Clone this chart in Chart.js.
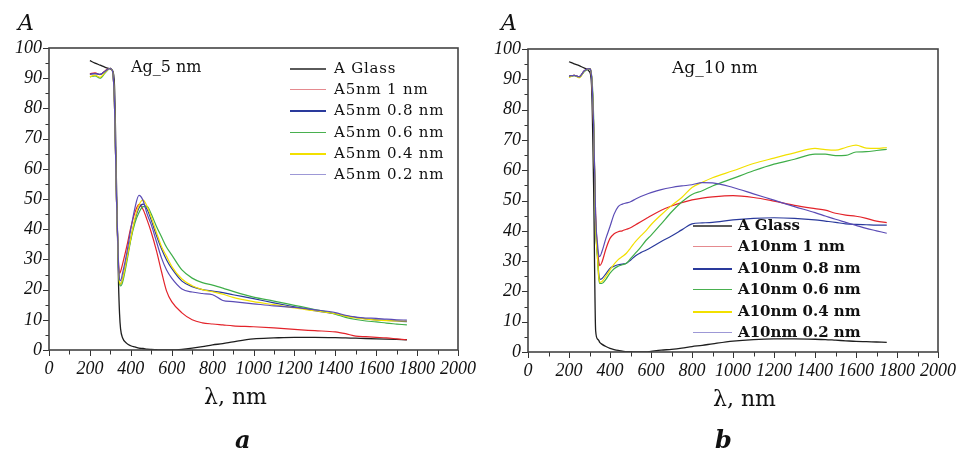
<!DOCTYPE html>
<html><head><meta charset="utf-8">
<script src="https://cdn.jsdelivr.net/npm/chart.js@4.4.1/dist/chart.umd.min.js"></script>
<style>
html,body{margin:0;padding:0;background:#fff;}
body{width:959px;height:451px;position:relative;overflow:hidden;font-family:"DejaVu Serif",serif;color:#111;}
canvas{position:absolute;top:0;}
.t{position:absolute;white-space:nowrap;line-height:1;}
.leg{position:absolute;}
.leg .row{position:absolute;left:0;height:20px;white-space:nowrap;}
.leg .sw{position:absolute;top:9px;height:0;border-top-style:solid;}
.leg .lbl{position:absolute;top:2px;font-size:15px;line-height:1;}
</style></head>
<body>
<canvas id="c1" width="480" height="451" style="left:0"></canvas>
<canvas id="c2" width="479" height="451" style="left:480px"></canvas>

<div class="t" style="left:18px;top:12px;font-size:22px;font-style:italic;">A</div>
<div class="t" style="left:501px;top:12px;font-size:22px;font-style:italic;">A</div>
<div class="t" style="left:131px;top:59px;font-size:16px;">Ag_5 nm</div>
<div class="t" style="left:672px;top:59px;font-size:17px;">Ag_10 nm</div>
<div class="t" style="left:204px;top:386px;font-size:22px;">λ, nm</div>
<div class="t" style="left:713px;top:388px;font-size:22px;">λ, nm</div>
<div class="t" style="left:235px;top:428px;font-size:24px;font-style:italic;font-weight:bold;">a</div>
<div class="t" style="left:715px;top:428px;font-size:24px;font-style:italic;font-weight:bold;">b</div>
<div id="leg1" class="leg" style="left:290px;top:59px;"></div>
<div id="leg2" class="leg" style="left:693px;top:216px;"></div>

<script>
// ---- data ----
const wavelength = [200, 225, 250, 275, 300, 310, 320, 330, 340, 345, 350, 360, 380, 400, 420, 440, 460, 480, 500, 525, 550, 575, 600, 650, 700, 750, 800, 850, 900, 1000, 1100, 1200, 1300, 1400, 1450, 1500, 1550, 1600, 1650, 1700, 1750];

// Panel a: Ag_5 nm
const names5 = ["A Glass", "A5nm 1 nm", "A5nm 0.8 nm", "A5nm 0.6 nm", "A5nm 0.4 nm", "A5nm 0.2 nm"];
const glass5 = [95.8, 95.0, 94.3, 93.6, 93.1, 92.6, 88, 55, 22, 12, 7, 4.0, 2.2, 1.4, 1.0, 0.6, 0.5, 0.3, 0.2, 0.1, 0, 0, 0, 0.2, 0.6, 1.1, 1.7, 2.1, 2.7, 3.7, 4.0, 4.2, 4.2, 4.1, 4.0, 3.9, 3.8, 3.7, 3.6, 3.5, 3.4];
const a5_1 = [91.5, 91.8, 91.2, 92.5, 93.3, 92.5, 82, 50, 29, 25.4, 26, 28.5, 34.2, 40.5, 45.5, 48.2, 46.5, 43, 39, 33, 26, 19.5, 16, 12.3, 10, 9, 8.6, 8.3, 8.0, 7.7, 7.3, 6.8, 6.4, 6.0, 5.4, 4.6, 4.4, 4.2, 4.0, 3.7, 3.4];
const a5_08 = [91.3, 91.5, 91.3, 92.3, 93.3, 92.5, 82, 50, 27, 22.5, 21.8, 23.5, 30, 37, 43, 47, 48.3, 46.5, 43, 38, 33.5, 29.8, 27, 22.8, 21, 20, 19.5, 19, 18.3, 17, 15.6, 14.3, 13, 12, 11.3, 10.8, 10.3, 10, 9.8, 9.6, 9.4];
const a5_06 = [90.4, 90.8, 90, 91.8, 93.3, 92.5, 82, 50, 26.5, 22, 21.2, 22.5, 29, 36.5, 42, 45.5, 47.5, 47.5, 45, 41, 37.5, 34, 31.5, 26.5, 23.8, 22.3, 21.5, 20.5, 19.4, 17.5, 16.2, 14.8, 13.4, 11.9, 10.8, 10.1, 9.6, 9.3, 8.9, 8.6, 8.3];
const a5_04 = [90.5, 91, 90.3, 92, 93.3, 92.5, 82, 50, 27, 22.5, 21.8, 23.5, 30, 37, 43.5, 48, 49.6, 47.5, 44, 39, 34.3, 31, 27.7, 23.5, 21.3, 20, 19.3, 18.5, 17.4, 16, 15, 13.9, 13, 12, 11.2, 10.6, 10.2, 9.9, 9.7, 9.6, 9.6];
const a5_02 = [91.3, 91.5, 91.3, 92.3, 93.3, 92.5, 82, 50, 28, 23.5, 23, 25.5, 32, 40, 47, 51.2, 49.5, 45, 41.5, 36, 30.5, 26.5, 23.8, 20.2, 19.2, 18.7, 18.3, 16.4, 16, 15.3, 14.6, 14.1, 13.3, 12.4, 11.5, 10.9, 10.6, 10.5, 10.2, 10, 9.9];

// Panel b: Ag_10 nm
const names10 = ["A Glass", "A10nm 1 nm", "A10nm 0.8 nm", "A10nm 0.6 nm", "A10nm 0.4 nm", "A10nm 0.2 nm"];
const glass10 = [95.8, 95.1, 94.5, 93.7, 92.5, 88, 55, 7, 4.2, 3.8, 3.2, 2.6, 1.8, 1.2, 0.8, 0.5, 0.3, 0.1, 0.1, 0, 0, 0, 0.2, 0.6, 0.9, 1.3, 1.8, 2.2, 2.7, 3.6, 4.1, 4.3, 4.3, 4.2, 4.1, 3.9, 3.7, 3.5, 3.4, 3.3, 3.2];
const a10_1 = [91, 91.3, 90.8, 92.8, 93.5, 91, 75, 45, 33, 30, 28.5, 29.5, 34, 37.5, 39, 39.7, 40, 40.5, 41, 42, 43, 44, 45, 46.8, 48.2, 49.3, 50.2, 50.8, 51.2, 51.6, 51, 49.8, 48.4, 47.3, 46.8, 45.8, 45.2, 44.8, 44.1, 43.2, 42.7];
const a10_08 = [91, 91.3, 90.8, 92.8, 93.5, 91, 75, 42, 31, 26, 24, 24.2, 25.8, 27.6, 28.3, 28.8, 29, 29.3, 30.3, 31.8, 32.8, 33.6, 34.5, 36.5, 38.3, 40.3, 42.3, 42.6, 42.8, 43.6, 44.1, 44.3, 44.1, 43.6, 43.2, 42.8, 42.3, 42.1, 42, 41.9, 41.9];
const a10_06 = [90.8, 91.2, 90.6, 92.6, 93.5, 91.5, 78, 42, 30, 24.5, 22.6, 22.6, 24, 26, 27.5, 28.3, 28.8, 29.3, 30.8, 32.7, 34.6, 36.8, 38.5, 42.3, 46.2, 49.5, 52, 53.2, 54.8, 57.3, 59.8, 62, 63.6, 65.3, 65.3, 64.8, 64.9, 66, 66.1, 66.5, 66.9];
const a10_04 = [90.6, 91.3, 90.5, 92.7, 93.5, 91, 75, 42, 30, 25, 23, 23.2, 25, 27.1, 29, 30.5, 31.5, 32.6, 34.3, 36.5, 38.3, 40, 42, 45.3, 48.3, 51, 54.3, 56, 57.5, 59.8, 62.2, 64, 65.7, 67.2, 66.8, 66.6, 67.5, 68.3, 67.3, 67.2, 67.5];
const a10_02 = [91, 91.3, 90.8, 92.8, 93.5, 91, 75, 45, 35, 32, 31.5, 33, 37.5, 41.4, 45.5, 48, 48.8, 49.2, 49.6, 50.5, 51.3, 52, 52.6, 53.6, 54.3, 54.8, 55.2, 55.9, 55.8, 54.3, 52.2, 50.1, 48, 46, 44.9, 43.8, 42.8, 41.8, 40.8, 40, 39.2];

const xTicks = [0, 200, 400, 600, 800, 1000, 1200, 1400, 1600, 1800, 2000];
const yTicks = [0, 10, 20, 30, 40, 50, 60, 70, 80, 90, 100];

// ---- styles ----
const lineColors = ["#1e1e1e", "#e3232a", "#2a3a9c", "#3fae49", "#f2e000", "#5a4bb5"];
const swatchColors = ["#5a5a5a", "#e58a8f", "#2a3a9c", "#49b04f", "#f2e000", "#9d98d6"];

function makeSets(series) {
  return series.map((vals, i) => ({
    data: vals.map((v, k) => ({x: wavelength[k], y: v})),
    borderColor: lineColors[i],
    borderWidth: i === 0 ? 1.3 : 1.2,
    pointRadius: 0,
    fill: false,
    cubicInterpolationMode: 'monotone'
  })).reverse();
}

// frame + tick marks (major longer than minor)
const framePlugin = {
  id: 'frame',
  afterDraw(chart) {
    const {ctx, chartArea: a, scales} = chart;
    ctx.save();
    ctx.strokeStyle = '#333';
    ctx.lineWidth = 1;
    ctx.beginPath();
    scales.x.ticks.forEach(t => {
      const px = Math.round(scales.x.getPixelForValue(t.value)) + 0.5;
      const len = xTicks.includes(t.value) ? 6 : 4.5;
      ctx.moveTo(px, a.bottom); ctx.lineTo(px, a.bottom + len);
    });
    scales.y.ticks.forEach(t => {
      const py = Math.round(scales.y.getPixelForValue(t.value)) + 0.5;
      const len = yTicks.includes(t.value) ? 6 : 3.5;
      ctx.moveTo(a.left, py); ctx.lineTo(a.left - len, py);
    });
    ctx.stroke();
    ctx.strokeStyle = '#444';
    ctx.lineWidth = 1.6;
    ctx.strokeRect(a.left, a.top, a.right - a.left, a.bottom - a.top);
    ctx.restore();
  }
};

const tickFont = {family: "'Liberation Serif'", style: "italic", size: 18};
const hidden = 'rgba(0,0,0,0)';

function makeChart(id, series, pad) {
  return new Chart(document.getElementById(id), {
    type: 'line',
    data: {datasets: makeSets(series)},
    plugins: [framePlugin],
    options: {
      responsive: false,
      animation: false,
      events: [],
      layout: {padding: {left: pad.left, right: pad.right, top: pad.top, bottom: pad.bottom}},
      plugins: {legend: {display: false}, tooltip: {enabled: false}},
      scales: {
        x: {
          type: 'linear', min: 0, max: 2000,
          border: {display: false},
          grid: {display: true, drawOnChartArea: false, drawTicks: true, tickLength: 8, tickColor: hidden, color: hidden},
          ticks: {
            stepSize: 100, autoSkip: false, maxRotation: 0, padding: 0,
            color: '#111', font: tickFont,
            callback: v => xTicks.includes(v) ? String(v) : ''
          },
          afterFit(s) { s.height = 451 - pad.bottomEdge; }
        },
        y: {
          min: 0, max: 100,
          border: {display: false},
          grid: {display: true, drawOnChartArea: false, drawTicks: true, tickLength: 7, tickColor: hidden, color: hidden},
          ticks: {
            stepSize: 5, autoSkip: false, padding: 0,
            color: '#111', font: tickFont,
            callback: v => yTicks.includes(v) ? String(v) : ''
          },
          afterFit(s) { s.width = pad.leftEdge; }
        }
      }
    }
  });
}

makeChart('c1', [glass5, a5_1, a5_08, a5_06, a5_04, a5_02],
  {left: 0, right: 22, top: 48, bottom: 0, leftEdge: 49, bottomEdge: 350});
makeChart('c2', [glass10, a10_1, a10_08, a10_06, a10_04, a10_02],
  {left: 0, right: 21, top: 49, bottom: 0, leftEdge: 48, bottomEdge: 352});

function makeLegend(id, names, opts) {
  const el = document.getElementById(id);
  names.forEach((n, i) => {
    const row = document.createElement('div');
    row.className = 'row';
    row.style.top = (i * opts.step) + 'px';
    const sw = document.createElement('div');
    sw.className = 'sw';
    sw.style.left = '0px';
    sw.style.width = opts.lineLen + 'px';
    sw.style.borderTopWidth = (i === 0 || i === 2 || i === 4) ? '2px' : '1.5px';
    sw.style.borderTopColor = swatchColors[i];
    const lb = document.createElement('div');
    lb.className = 'lbl';
    lb.style.left = opts.textX + 'px';
    lb.style.fontWeight = opts.weight;
    lb.style.letterSpacing = opts.ls;
    lb.textContent = n;
    row.appendChild(sw); row.appendChild(lb);
    el.appendChild(row);
  });
}
makeLegend('leg1', names5, {step: 21.2, lineLen: 36, textX: 44, weight: 'normal', ls: '0.8px'});
makeLegend('leg2', names10, {step: 21.4, lineLen: 39, textX: 45, weight: 'bold', ls: '0px'});
</script>
</body></html>
